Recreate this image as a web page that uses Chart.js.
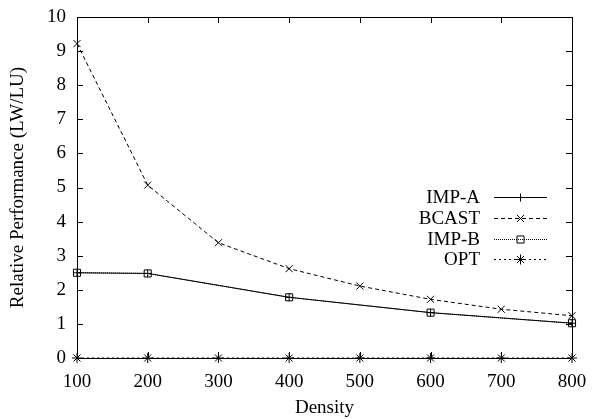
<!DOCTYPE html>
<html>
<head>
<meta charset="utf-8">
<script src="https://cdn.jsdelivr.net/npm/chart.js@4/dist/chart.umd.min.js"></script>
<style>
  html, body { margin: 0; padding: 0; background: #fff; }
  #wrap { width: 597px; height: 419px; }
</style>
</head>
<body>
<div id="wrap"><canvas id="perfChart" width="597" height="419"></canvas></div>
<script>
// 資料
const densities = [100, 200, 300, 400, 500, 600, 700, 800];
const impDensities = [100, 200, 400, 600, 800];
const impA = [2.5, 2.48, 1.78, 1.33, 1.02];
const impB = [2.5, 2.48, 1.78, 1.33, 1.02];
const bcast = [9.22, 5.07, 3.38, 2.62, 2.11, 1.72, 1.43, 1.24];
const opt = [0, 0, 0, 0, 0, 0, 0, 0];
const xTicks = [100, 200, 300, 400, 500, 600, 700, 800];
const yTicks = [0, 1, 2, 3, 4, 5, 6, 7, 8, 9, 10];

const FONT = 'Liberation Serif, "Times New Roman", serif';

function toPoints(xs, ys) {
    return xs.map((x, i) => ({ x: x, y: ys[i] }));
}

const seriesStyles = [
    { label: 'IMP-A', data: toPoints(impDensities, impA), dash: [], style: 'cross', radius: 4 },
    { label: 'BCAST', data: toPoints(densities, bcast), dash: [4, 3], style: 'crossRot', radius: 5 },
    { label: 'IMP-B', data: toPoints(impDensities, impB), dash: [1, 1], style: 'rect', radius: 5 },
    { label: 'OPT', data: toPoints(densities, opt), dash: [2, 3], style: 'star', radius: 5 }
];

const datasets = seriesStyles.map((s, i) => ({
    label: s.label,
    data: s.data,
    borderColor: '#000',
    backgroundColor: 'rgba(0,0,0,0)',
    borderWidth: 1,
    borderDash: s.dash,
    pointStyle: s.style,
    pointRadius: s.radius,
    pointBorderColor: '#000',
    pointBackgroundColor: 'rgba(0,0,0,0)',
    pointBorderWidth: 1,
    tension: 0,
    fill: false,
    clip: false,
    order: -i
}));

// 框線、向內刻度和圖例
const framePlugin = {
    id: 'frame',
    afterDatasetsDraw(chart) {
        const ctx = chart.ctx;
        const area = chart.chartArea;
        const xs = chart.scales.x;
        const ys = chart.scales.y;
        const tick = 6;
        ctx.save();
        ctx.strokeStyle = '#000';
        ctx.lineWidth = 1;
        ctx.setLineDash([]);
        ctx.strokeRect(Math.round(area.left) + 0.5, Math.round(area.top) + 0.5,
            Math.round(area.right - area.left), Math.round(area.bottom - area.top));
        ctx.beginPath();
        xTicks.forEach(v => {
            const px = Math.round(xs.getPixelForValue(v)) + 0.5;
            ctx.moveTo(px, area.bottom);
            ctx.lineTo(px, area.bottom - tick);
            ctx.moveTo(px, area.top);
            ctx.lineTo(px, area.top + tick);
        });
        yTicks.forEach(v => {
            const py = Math.round(ys.getPixelForValue(v)) + 0.5;
            ctx.moveTo(area.left, py);
            ctx.lineTo(area.left + tick, py);
            ctx.moveTo(area.right, py);
            ctx.lineTo(area.right - tick, py);
        });
        ctx.stroke();

        // 圖例
        const textRight = area.right - 92;
        const lineStart = area.right - 78;
        const lineEnd = area.right - 25;
        const rowTop = area.top + 180;
        const rowStep = 20.8;
        ctx.font = '19px ' + FONT;
        ctx.textAlign = 'right';
        ctx.textBaseline = 'middle';
        seriesStyles.forEach((s, i) => {
            const y = Math.round(rowTop + i * rowStep) + 0.5;
            ctx.fillStyle = '#000';
            ctx.fillText(s.label, textRight, y + 1);
            ctx.beginPath();
            ctx.setLineDash(s.dash);
            ctx.moveTo(lineStart, y);
            ctx.lineTo(lineEnd, y);
            ctx.stroke();
            ctx.setLineDash([]);
            ctx.fillStyle = 'rgba(0,0,0,0)';
            Chart.helpers.drawPoint(ctx, {
                pointStyle: s.style,
                radius: s.radius,
                rotation: 0,
                borderWidth: 1
            }, (lineStart + lineEnd) / 2, y);
        });
        ctx.restore();
    }
};

const ctx = document.getElementById('perfChart').getContext('2d');
const perfChart = new Chart(ctx, {
    type: 'line',
    data: { datasets: datasets },
    options: {
        responsive: false,
        animation: false,
        devicePixelRatio: 1,
        layout: { padding: { top: 17, right: 25, left: 0, bottom: 0 } },
        plugins: {
            legend: { display: false },
            tooltip: { enabled: false }
        },
        scales: {
            x: {
                type: 'linear',
                min: 100,
                max: 800,
                afterFit: scale => {
                    scale.height = 61;
                    scale.paddingLeft = 0;
                    scale.paddingRight = 0;
                },
                afterBuildTicks: scale => { scale.ticks = xTicks.map(v => ({ value: v })); },
                grid: { display: false, drawTicks: false },
                border: { display: false },
                ticks: {
                    color: '#000',
                    padding: 13,
                    maxRotation: 0,
                    font: { family: FONT, size: 19 }
                },
                title: {
                    display: true,
                    text: 'Density',
                    color: '#000',
                    padding: { top: 0, bottom: 0 },
                    font: { family: FONT, size: 19 }
                }
            },
            y: {
                type: 'linear',
                min: 0,
                max: 10,
                afterFit: scale => {
                    scale.width = 77;
                    scale.paddingTop = 0;
                    scale.paddingBottom = 0;
                },
                afterBuildTicks: scale => { scale.ticks = yTicks.map(v => ({ value: v })); },
                grid: { display: false, drawTicks: false },
                border: { display: false },
                ticks: {
                    color: '#000',
                    padding: 11,
                    font: { family: FONT, size: 19 }
                },
                title: {
                    display: true,
                    text: 'Relative Performance (LW/LU)',
                    color: '#000',
                    padding: { top: 7, bottom: 0 },
                    font: { family: FONT, size: 19 }
                }
            }
        }
    },
    plugins: [framePlugin]
});
</script>
</body>
</html>
